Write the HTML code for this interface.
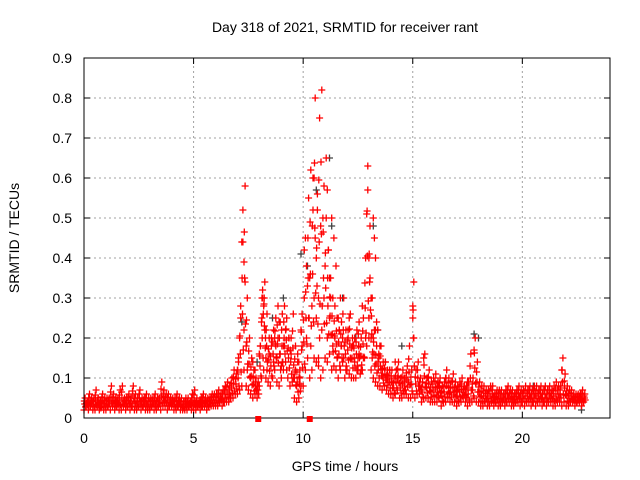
<!DOCTYPE html>
<html><head><meta charset="utf-8"><style>
body{margin:0;background:#fff}
svg{display:block;font-family:"Liberation Sans",sans-serif}
</style></head><body>
<svg id="chart" width="640" height="480">
<rect width="640" height="480" fill="#fff"/>
<text x="345" y="32" font-size="14" text-anchor="middle">Day 318 of 2021, SRMTID for receiver rant</text>
<text x="345" y="471" font-size="14" text-anchor="middle">GPS time / hours</text>
<text transform="translate(19,238) rotate(-90)" font-size="14" text-anchor="middle">SRMTID / TECUs</text>
<g id="grid"></g><g id="gray"></g><g id="red"></g><g id="axes"></g>
</svg>
<script>
const xTicks=[0,5,10,15,20];
const yTicks=[0,0.1,0.2,0.3,0.4,0.5,0.6,0.7,0.8,0.9];
const yTickLabels=["0","0.1","0.2","0.3","0.4","0.5","0.6","0.7","0.8","0.9"];
const loVals=[2,3,2,3,2,2,3,2,3,2,2,3,2,3,2,3,2,2,3,2,3,2,3,2,2,3,2,3,2,2,2,3,2,2,3,2,3,3,2,3,3,2,2,3,2,2,2,2,3,2,
2,2,3,2,3,3,2,3,3,3,3,3,4,3,4,4,4,5,5,6,
6,7,8,12,8,7,6,5,6,5,
8,10,12,10,9,8,10,12,9,8,10,12,14,10,8,9,5,4,5,8,
8,12,15,10,12,15,14,13,10,12,15,14,16,12,13,12,10,12,14,10,
12,11,10,10,10,12,11,12,15,18,20,12,10,9,8,8,7,8,7,6,
6,5,6,7,5,5,6,6,5,5,6,5,6,6,4,5,5,5,4,4,
4,4,5,3,4,4,5,4,4,4,3,4,4,5,4,3,4,4,5,4,
4,3,3,4,3,3,4,3,4,3,3,4,3,4,4,3,3,4,4,3,
4,3,4,4,3,4,3,4,4,3,4,3,4,4,3,3,4,4,3,4,3,3,4,4,3,4,4,3,4];
const hiVals=[5,4,6,5,5,7,5,4,6,5,5,5,8,6,5,5,7,8,5,5,6,5,8,6,5,7,5,5,6,5,5,5,6,5,5,9,7,6,6,5,5,5,6,5,5,4,5,5,4,6,
7,5,4,5,6,5,5,5,6,6,6,7,6,7,8,9,8,10,12,11,
14,25,44,58,30,20,15,12,10,9,
18,30,34,26,20,18,22,25,28,24,26,28,25,20,20,26,18,14,12,26,
30,38,55,62,60,80,52,75,82,58,50,42,35,30,28,25,22,24,30,22,
22,26,20,20,22,24,20,25,40,63,48,30,22,18,16,18,14,14,12,12,
12,10,12,14,10,12,10,13,18,12,34,12,14,10,9,16,10,12,9,10,
11,9,10,8,9,12,10,9,11,9,8,9,10,8,8,9,16,10,20,14,
9,8,8,7,7,8,8,6,7,7,7,6,7,8,7,7,6,7,8,7,
7,8,7,8,7,8,8,7,8,7,8,7,8,7,8,9,8,8,15,11,8,7,7,6,6,6,6,7,6];
const spikeT=[7.25,7.2,7.3,7.35,7.15,7.3,7.4,7.1,8.15,8.2,8.25,8.1,8.05,8.3,8.7,8.8,8.9,9.1,9.2,9.0,9.6,9.7,9.75,9.9,
10.05,10.1,10.2,10.3,10.4,10.45,10.5,10.55,10.6,10.65,10.7,10.75,10.8,10.9,11.0,11.05,11.1,11.15,11.2,11.25,11.3,11.4,11.5,11.6,11.7,11.8,
12.1,12.3,12.5,12.7,12.9,12.95,13.0,13.05,13.1,13.2,13.25,13.3,13.35,13.4,13.2,13.5,14.2,15.0,15.0,15.05,15.5,17.8,21.8,
7.0,7.05,7.45,7.6,7.7,7.8,8.0,8.12,8.18,8.22,8.28,8.35,8.45,8.55,8.65,8.75,8.85,8.95,9.05,9.15,9.25,9.35,9.45,9.55,9.65,9.8,9.85,9.95,
10.15,10.25,10.35,10.5,10.6,10.7,10.85,10.95,11.1,11.2,11.35,11.45,11.55,11.65,11.75,11.85,11.95,12.05,12.15,12.25,12.35,12.45,12.55,12.65,
12.75,12.85,13.0,13.1,13.15,13.3,13.45,13.55,13.65,13.75,13.85,13.95,14.05,14.3,14.6,14.8,15.3,15.7,16.2,16.5,17.0,17.5];
const spikeV=[0.52,0.44,0.39,0.34,0.28,0.22,0.18,0.2,0.32,0.28,0.22,0.24,0.18,0.15,0.2,0.15,0.24,0.18,0.22,0.13,0.1,0.08,0.16,0.22,
0.42,0.45,0.33,0.35,0.28,0.52,0.6,0.45,0.4,0.56,0.3,0.2,0.48,0.5,0.38,0.65,0.57,0.42,0.35,0.3,0.5,0.45,0.38,0.25,0.3,0.2,
0.25,0.18,0.15,0.28,0.51,0.57,0.4,0.35,0.3,0.5,0.45,0.4,0.24,0.22,0.2,0.18,0.14,0.28,0.25,0.2,0.15,0.17,0.12,
0.12,0.15,0.12,0.1,0.14,0.12,0.16,0.3,0.26,0.3,0.2,0.12,0.16,0.2,0.14,0.18,0.2,0.16,0.14,0.18,0.12,0.2,0.16,0.1,0.12,0.14,0.1,0.18,
0.2,0.25,0.18,0.3,0.25,0.15,0.22,0.3,0.2,0.25,0.18,0.2,0.15,0.22,0.18,0.15,0.12,0.2,0.15,0.18,0.14,0.12,0.16,0.12,
0.15,0.2,0.25,0.2,0.15,0.22,0.15,0.12,0.1,0.14,0.1,0.12,0.09,0.1,0.1,0.09,0.08,0.1,0.08,0.1,0.07,0.09];
const grayT=[7.2,7.9,8.6,9.1,9.9,10.2,10.6,11.2,11.3,11.8,12.4,13.2,13.4,14.5,17.8,18.0,20.5,22.7];
const grayV=[0.24,0.14,0.25,0.3,0.41,0.38,0.57,0.65,0.48,0.3,0.2,0.48,0.22,0.18,0.21,0.2,0.08,0.02];
const markT=[7.95,10.3];

const X0=84,X1=610,Y0=418,Y1=58,XMAX=24,YMAX=0.9;
const sx=t=>X0+t/XMAX*(X1-X0);
const sy=v=>Y0-v/YMAX*(Y0-Y1);
const NS="http://www.w3.org/2000/svg";
function mk(tag,attrs,parent){const e=document.createElementNS(NS,tag);for(const k in attrs)e.setAttribute(k,attrs[k]);parent.appendChild(e);return e;}
const grid=document.getElementById('grid'),axes=document.getElementById('axes');
const red=document.getElementById('red'),gray=document.getElementById('gray');
yTicks.forEach((v,i)=>{
  const y=sy(v);
  if(i>0&&i<yTicks.length-1){const l=mk('line',{x1:X0,x2:X1,y1:y,y2:y,stroke:'#a0a0a0','stroke-dasharray':'2,3'},grid);
  }
  const tk=mk('path',{d:`M${X0} ${y}h6M${X1} ${y}h-6`,stroke:'#000'},axes);
  
  const t=mk('text',{x:72,y:y+5,'font-size':14,'text-anchor':'end'},axes);t.textContent=yTickLabels[i];
  
});
xTicks.forEach(v=>{
  const x=sx(v);
  if(v>0){const l=mk('line',{x1:x,x2:x,y1:Y0,y2:Y1,stroke:'#a0a0a0','stroke-dasharray':'2,3'},grid);
  }
  const tk=mk('path',{d:`M${x} ${Y0}v-6M${x} ${Y1}v6`,stroke:'#000'},axes);
  
  const t=mk('text',{x:x,y:443,'font-size':14,'text-anchor':'middle'},axes);t.textContent=String(v);
  
});
const frame=mk('rect',{x:X0,y:Y1,width:X1-X0,height:Y0-Y1,fill:'none',stroke:'#000'},axes);

function plus(t,v,col,g){const x=sx(t),y=sy(v);
  const p=mk('path',{d:`M${(x-3.5).toFixed(1)} ${y.toFixed(1)}h7M${x.toFixed(1)} ${(y-3.5).toFixed(1)}v7`,stroke:col,'stroke-width':1.3},g);
  return p;}
grayT.forEach((t,i)=>{const p=plus(t,grayV[i],'#404040',gray);
  });
loVals.forEach((v,i)=>{const t=i*0.1,h=hiVals[i];
  const a=plus(t,v/100,'#ff0000',red);
  const b=plus(t+0.05,h/100,'#ff0000',red);
  const c=plus(t+0.03,(v+h)/200,'#ff0000',red);
  const d=plus(t+0.07,(3*v+h)/400,'#ff0000',red);
  const e=plus(t+0.015,(v+3*h)/400,'#ff0000',red);
});
spikeT.forEach((t,i)=>{const p=plus(t,spikeV[i],'#ff0000',red);
  });
markT.forEach(t=>{const r=mk('rect',{x:sx(t)-3,y:Y0-2,width:6,height:6,fill:'#ff0000'},axes);
  });
</script>
</body></html>
